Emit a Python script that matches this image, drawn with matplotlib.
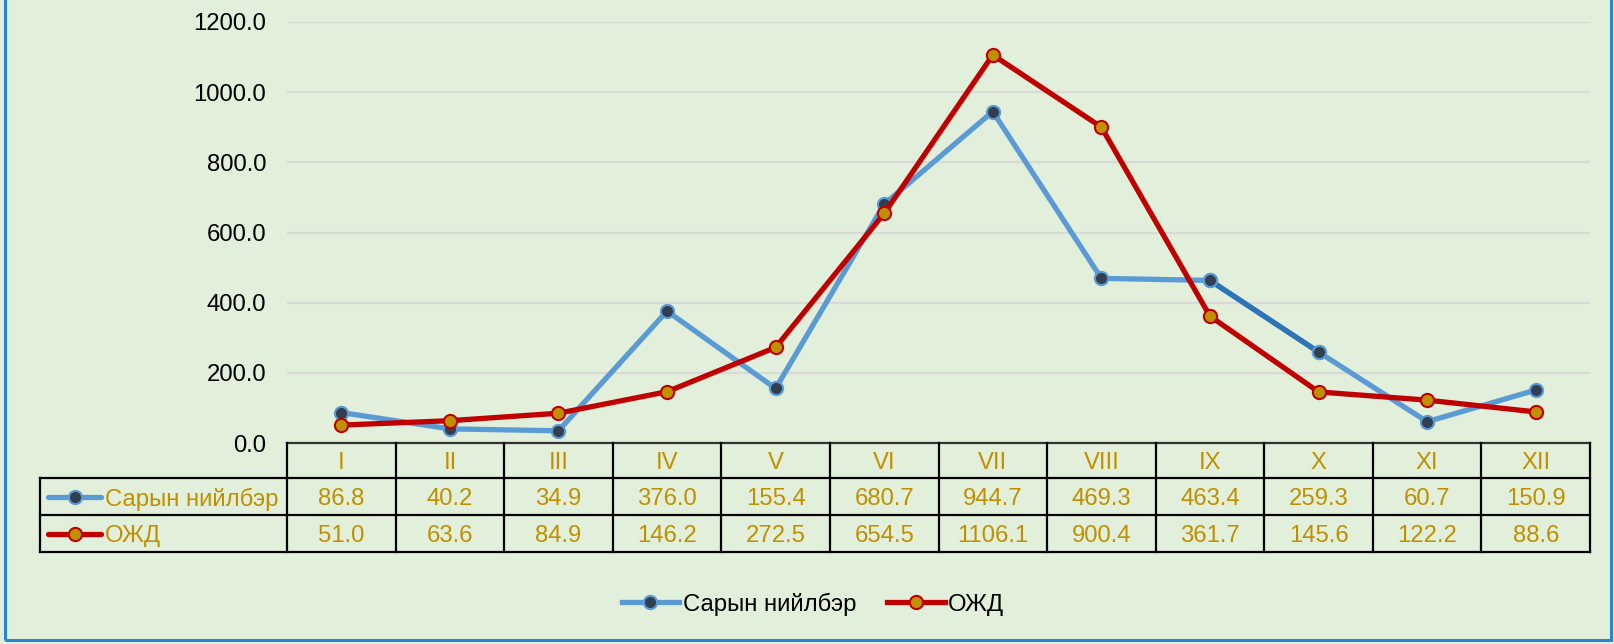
import matplotlib
matplotlib.use("Agg")
import matplotlib.pyplot as plt
from matplotlib.lines import Line2D
from matplotlib.patches import Rectangle

months = ["I", "II", "III", "IV", "V", "VI", "VII", "VIII", "IX", "X", "XI", "XII"]
series_names = ["Сарын нийлбэр", "ОЖД"]
sarin = [86.8, 40.2, 34.9, 376.0, 155.4, 680.7, 944.7, 469.3, 463.4, 259.3, 60.7, 150.9]
ozhd = [51.0, 63.6, 84.9, 146.2, 272.5, 654.5, 1106.1, 900.4, 361.7, 145.6, 122.2, 88.6]
yticks = [0, 200, 400, 600, 800, 1000, 1200]

plt.rcParams['font.family'] = ['Liberation Sans', 'DejaVu Sans']

W, H = 1614, 644
fig = plt.figure(figsize=(W / 100, H / 100), dpi=100)
fig.patch.set_facecolor('#E2EFDA')

def fx(px):
    return px / W

def fy(py):
    return 1 - py / H

# outer border
fig.add_artist(Rectangle((fx(5), fy(640)), fx(1611) - fx(5), fy(-5) - fy(640),
                         transform=fig.transFigure, fill=False,
                         edgecolor='#2A86D4', linewidth=2.2))

ax_l, ax_r, ax_t, ax_b = 287, 1590, 22, 443
ax = fig.add_axes([fx(ax_l), fy(ax_b), fx(ax_r) - fx(ax_l), fy(ax_t) - fy(ax_b)])
ax.set_facecolor('none')
n = len(months)
x = list(range(n))
fs = 17.2
ax.set_xlim(-0.5, n - 0.5)
ax.set_ylim(0, 1200)
ax.set_yticks(yticks)
ax.set_yticklabels([f"{v:.1f}" for v in yticks], fontsize=fs, color='black')
ax.tick_params(axis='y', length=0, pad=15)
ax.set_xticks([])
for s in ax.spines.values():
    s.set_visible(False)
ax.grid(axis='y', color='#D9D9D9', linewidth=1.6)
ax.set_axisbelow(True)

blue_kw = dict(color='#5B9BD5', linewidth=3.8, marker='o', markersize=9.5,
               markerfacecolor='#333F50', markeredgecolor='#5B9BD5', markeredgewidth=1.5)
red_kw = dict(color='#C00000', linewidth=3.8, marker='o', markersize=9.5,
              markerfacecolor='#BF9000', markeredgecolor='#C00000', markeredgewidth=1.5)

ax.plot(x, sarin, zorder=3, solid_capstyle='round', **blue_kw)
ax.plot(x[8:10], sarin[8:10], color='#2E75B6', linewidth=3.8, zorder=3.1)
ax.plot(x[8:10], sarin[8:10], linestyle='none', marker='o', markersize=9.5,
        markerfacecolor='#333F50', markeredgecolor='#5B9BD5', markeredgewidth=1.5, zorder=3.2)
ax.plot(x, ozhd, zorder=4, solid_capstyle='round', **red_kw)

# data table
gold = '#BF9000'
col_w = (ax_r - ax_l) / n
row_y = [443, 478, 515, 552]
tab_left = 40
lw = 1.6
dy = 2.5
fig.add_artist(Line2D([fx(ax_l), fx(ax_r)], [fy(row_y[0])] * 2, color='#333333', lw=lw))
for ry in row_y[1:]:
    fig.add_artist(Line2D([fx(tab_left), fx(ax_r)], [fy(ry)] * 2, color='black', lw=lw))
for i in range(n + 1):
    xx = ax_l + i * col_w
    fig.add_artist(Line2D([fx(xx)] * 2, [fy(row_y[0]), fy(row_y[3])], color='black', lw=lw))
fig.add_artist(Line2D([fx(tab_left)] * 2, [fy(row_y[1]), fy(row_y[3])], color='black', lw=lw))

for i, m in enumerate(months):
    cx = ax_l + (i + 0.5) * col_w
    fig.text(fx(cx), fy((row_y[0] + row_y[1]) / 2 + dy), m, ha='center', va='center',
             fontsize=fs, color=gold)
    fig.text(fx(cx), fy((row_y[1] + row_y[2]) / 2 + dy), f"{sarin[i]:.1f}", ha='center',
             va='center', fontsize=fs, color=gold)
    fig.text(fx(cx), fy((row_y[2] + row_y[3]) / 2 + dy), f"{ozhd[i]:.1f}", ha='center',
             va='center', fontsize=fs, color=gold)

for r, (name, kw) in enumerate(zip(series_names, [blue_kw, red_kw])):
    cy = (row_y[r + 1] + row_y[r + 2]) / 2
    fig.add_artist(Line2D([fx(48), fx(101)], [fy(cy)] * 2, transform=fig.transFigure,
                          solid_capstyle='round', **kw, markevery=[]))
    fig.add_artist(Line2D([fx(74.5)], [fy(cy)], transform=fig.transFigure, linestyle='none',
                          marker='o', markersize=9.5, markerfacecolor=kw['markerfacecolor'],
                          markeredgecolor=kw['markeredgecolor'], markeredgewidth=1.5))
    fig.text(fx(105), fy(cy + dy), name, ha='left', va='center', fontsize=fs, color=gold)

handles = [Line2D([], [], **blue_kw), Line2D([], [], **red_kw)]
leg = fig.legend(handles, series_names, loc='center', bbox_to_anchor=(fx(813), fy(604)),
                 ncol=2, frameon=False, fontsize=fs, handlelength=2.4, handletextpad=0.15,
                 columnspacing=1.3)

fig.savefig('out.png', dpi=100, facecolor=fig.get_facecolor())
